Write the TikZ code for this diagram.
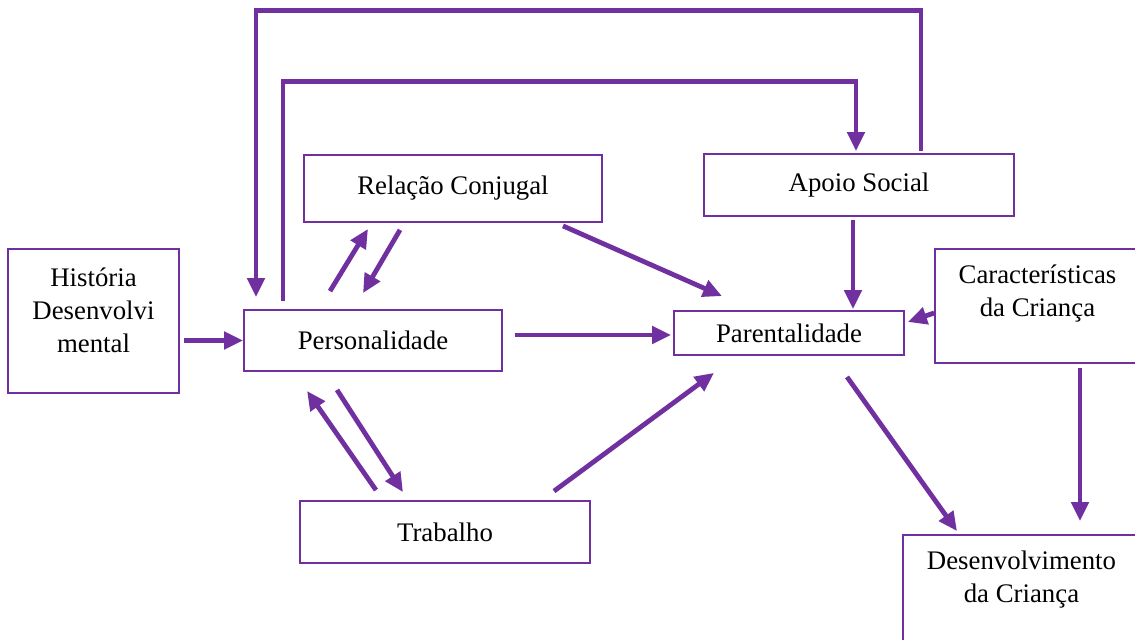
\documentclass[tikz,border=0pt]{standalone}
\usepackage{fontspec}
\setmainfont{Liberation Serif}
\usetikzlibrary{arrows.meta,calc}
\definecolor{boxpurple}{HTML}{7030A0}
\tikzset{
  framebox/.style={rectangle, draw=boxpurple, line width=0.9pt, inner sep=0pt,
                   font=\fontsize{13.4}{16.5}\selectfont},
  boxtext/.style={align=center, font=\fontsize{13.4}{16.5}\selectfont},
  arrow/.style={-{Triangle[length=9.5pt,width=8.5pt]}, line width=2.4pt, draw=boxpurple},
}
\begin{document}
\begin{tikzpicture}[x=0.5pt, y=-0.5pt]
    \clip (0,0) rectangle (1135,639);

    % Boxes
    \node[framebox, minimum width=85.5pt, minimum height=72pt,
          label={[boxtext, yshift=5.5pt]center:História\\Desenvolvi\\mental}] (hist) at (93.5,321) {};
    \node[framebox, minimum width=129pt, minimum height=30.5pt] (pers) at (373,340.5) {Personalidade};
    \node[framebox, minimum width=149pt, minimum height=33.5pt] (rel) at (453,188.5) {Relação Conjugal};
    \node[framebox, minimum width=155pt, minimum height=31pt] (apoio) at (859,185) {Apoio Social};
    \node[framebox, minimum width=115pt, minimum height=22pt] (parent) at (789,333) {Parentalidade};
    \node[framebox, minimum width=102.5pt, minimum height=57pt,
          label={[boxtext, yshift=6pt]center:Características\\da Criança}] (carac) at (1037.5,306) {};
    \node[framebox, minimum width=145pt, minimum height=31pt] (trab) at (445,532) {Trabalho};
    \node[framebox, minimum width=118.5pt, minimum height=55pt,
          label={[boxtext, yshift=5pt]center:Desenvolvimento\\da Criança}] (desenv) at (1021.5,590) {};

    % Into parentalidade
    \draw[arrow] ($(hist.east)+(4,19.5)$) -- (pers.west);
    \draw[arrow] ($(pers.east)+(12,-5.5)$) -- ($(parent.west)+(-2,2)$);
    \draw[arrow] ($(rel.south)+(110,3)$) -- ($(parent.north)+(-67,-14)$);
    \draw[arrow] ($(apoio.south)+(-6,3)$) -- ($(parent.north)+(64,-1)$);
    \draw[arrow] ($(carac.west)+(0,7)$) -- ($(parent.east)+(3,-11)$);
    \draw[arrow] ($(trab.north)+(109,-9)$) -- ($(parent.south)+(-75,17)$);

    % Out to desenvolvimento
    \draw[arrow] ($(parent.south)+(58,21)$) -- ($(desenv.north)+(-64.5,-3)$);
    \draw[arrow] ($(carac.south)+(42.5,4)$) -- ($(desenv.north)+(58.5,-13)$);

    % Personalidade <-> relacao / trabalho
    \draw[arrow] ($(pers.north)+(-43,-18)$) -- ($(rel.south)+(-85,6)$);
    \draw[arrow] ($(rel.south)+(-53,7)$) -- ($(pers.north)+(-10,-16)$);
    \draw[arrow] ($(pers.south)+(-36,18)$) -- ($(trab.north)+(-42,-8)$);
    \draw[arrow] ($(trab.north)+(-69,-10)$) -- ($(pers.south)+(-66,19)$);

    % Loops over the top
    \draw[arrow] ($(pers.north)+(-90,-8)$) |- ($(apoio.north)+(-3,-72)$) -- ($(apoio.north)+(-3,-2)$);
    \draw[arrow] ($(apoio.north)+(62,-2)$) |- ($(pers.north)+(-117,-299)$) -- ($(pers.north)+(-117,-12)$);
  \end{tikzpicture}
\end{document}
